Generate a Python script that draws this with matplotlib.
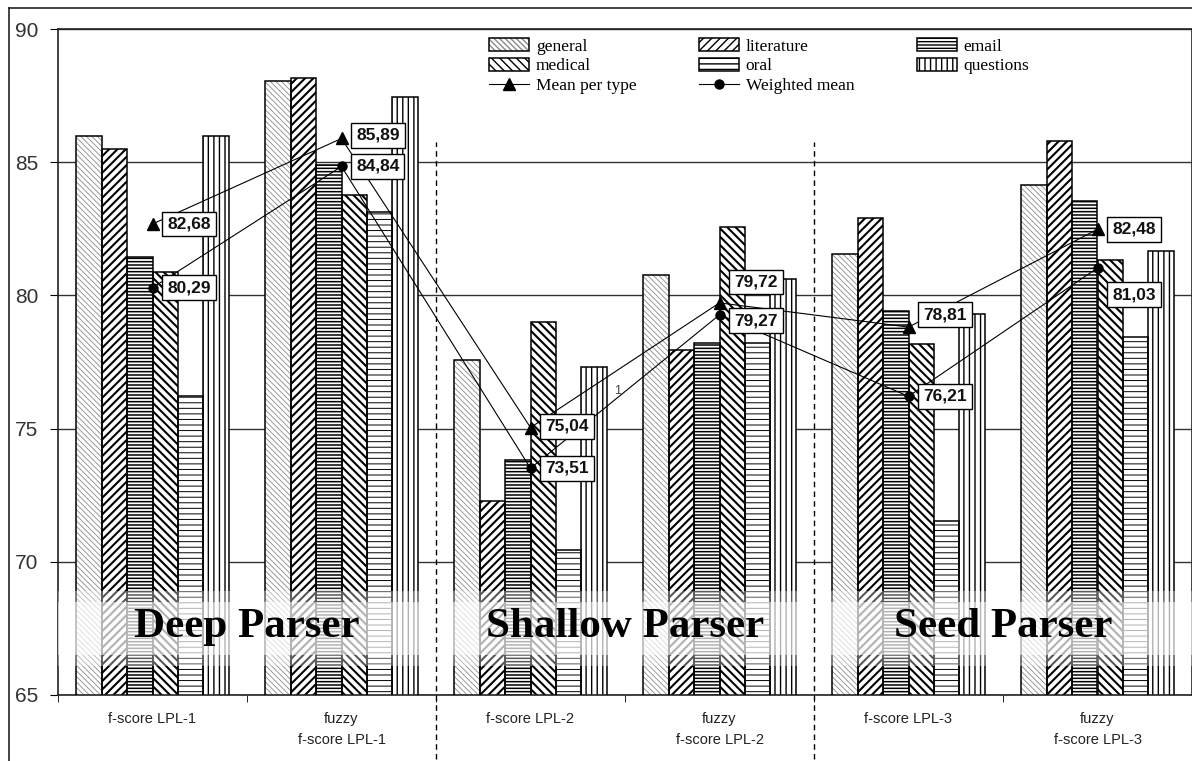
import numpy as np
import matplotlib.pyplot as plt
from matplotlib.patches import Patch, Rectangle
from matplotlib.lines import Line2D
from matplotlib.legend_handler import HandlerTuple

# data
categories = ['f-score LPL-1', 'fuzzy\nf-score LPL-1', 'f-score LPL-2',
              'fuzzy\nf-score LPL-2', 'f-score LPL-3', 'fuzzy\nf-score LPL-3']
series_names = ['general', 'literature', 'email', 'medical', 'oral', 'questions']
general = [86.0, 88.03, 77.59, 80.76, 81.55, 84.14]
literature = [85.5, 88.16, 72.28, 77.96, 82.89, 85.8]
email = [81.45, 84.9, 73.82, 78.2, 79.43, 83.54]
medical = [80.87, 83.77, 79.01, 82.56, 78.17, 81.33]
oral = [76.23, 83.14, 70.44, 78.21, 71.53, 78.42]
questions = [86.0, 87.43, 77.31, 80.63, 79.3, 81.65]
mean_per_type = [82.68, 85.89, 75.04, 79.72, 78.81, 82.48]
weighted_mean = [80.29, 84.84, 73.51, 79.27, 76.21, 81.03]
parser_names = ['Deep Parser', 'Shallow Parser', 'Seed Parser']

# label box nudges (data units), to keep boxes apart
mean_dy = [0.0, 0.12, 0.05, 0.78, 0.47, 0.0]
weighted_dy = [0.0, 0.0, 0.0, -0.22, 0.0, -1.0]

W, H = 1192, 761
SERIF = ['Liberation Serif', 'DejaVu Serif']
SANS = ['Liberation Sans', 'DejaVu Sans']

# hatch, hatch colour, hatch linewidth per series
styles = [
    ('\\' * 6, '#8a8a8a', 0.6),
    ('////', 'black', 1.5),
    ('-----', 'black', 1.1),
    ('\\' * 4, 'black', 1.5),
    ('---', 'black', 0.7),
    ('|||', 'black', 1.0),
]

fig = plt.figure(figsize=(W / 100, H / 100), dpi=100)
ax = fig.add_axes([58 / W, 1 - 695 / H, 1 - 58 / W, (695 - 29) / H])

x = np.arange(len(categories))
n = len(series_names)
group_w = 0.805
bw = group_w / n
values = [general, literature, email, medical, oral, questions]


def hatched(hatch, color, hlw):
    with plt.rc_context({'hatch.linewidth': hlw}):
        p = Patch(facecolor='white', edgecolor=color, hatch=hatch, linewidth=0)
        if hasattr(p, 'set_hatch_linewidth'):
            p.set_hatch_linewidth(hlw)
    return p


handles = []
for k, (vals, (hatch, hc, hlw)) in enumerate(zip(values, styles)):
    xs = x - group_w / 2 + bw * (k + 0.5)
    with plt.rc_context({'hatch.linewidth': hlw}):
        bars = ax.bar(xs, vals, bw, facecolor='white', edgecolor=hc,
                      hatch=hatch, linewidth=0, zorder=2)
    for b in bars:
        if hasattr(b, 'set_hatch_linewidth'):
            b.set_hatch_linewidth(hlw)
    ax.bar(xs, vals, bw, fill=False, edgecolor='black', linewidth=1.1, zorder=3)
    outline = Patch(facecolor='none', edgecolor='black', linewidth=1.1)
    handles.append((hatched(hatch, hc, hlw), outline))

# translucent band behind the parser names
ax.add_patch(Rectangle((-0.5, 66.5), len(x), 2.0, fc='white', ec='none',
                       alpha=0.7, zorder=4))
for y0 in (66.1, 68.5):
    ax.add_patch(Rectangle((-0.5, y0), len(x), 0.4, fc='white', ec='none',
                           alpha=0.35, zorder=4))
for i, name in enumerate(parser_names):
    ax.text(2 * i + 0.5, 67.55, name, ha='center', va='center', fontsize=31,
            fontweight='bold', family=SERIF, color='black', zorder=5)

# mean lines
ax.plot(x, mean_per_type, color='black', lw=0.8, marker='^', ms=8, zorder=7)
ax.plot(x, weighted_mean, color='black', lw=0.8, marker='o', ms=6.5, zorder=7)

for i in range(len(x)):
    for v, dy in ((mean_per_type[i], mean_dy[i]), (weighted_mean[i], weighted_dy[i])):
        ax.annotate(f'{v:.2f}'.replace('.', ','), (x[i], v),
                    xytext=(x[i] + 0.078, v + dy), textcoords='data',
                    ha='left', va='center', fontsize=12.5, fontweight='bold',
                    family=SANS, color='#111111', zorder=9,
                    bbox=dict(boxstyle='square,pad=0.28', fc='white',
                              ec='black', lw=1))

ax.text(2.44, 76.3, '1', fontsize=9, color='#444444', zorder=8, family=SANS)

# dashed separators between parsers
for xd in (1.5, 3.5):
    ax.plot([xd, xd], [62.6, 85.76], color='black', lw=1, ls=(0, (4, 3)),
            clip_on=False, zorder=6)

ax.set_xlim(-0.5, len(x) - 0.5)
ax.set_ylim(65, 90)
ax.set_yticks([65, 70, 75, 80, 85, 90])
ax.yaxis.grid(True, color='#333333', lw=1)
ax.set_axisbelow(True)
ax.set_xticks(x)
ax.set_xticklabels(categories, family=SANS, fontsize=10.5, color='#222222',
                   linespacing=1.7)
ax.set_xticks(np.arange(-0.5, len(x)), minor=True)
ax.tick_params(axis='x', which='major', length=0, pad=12)
ax.tick_params(axis='x', which='minor', length=5, direction='out')
ax.tick_params(axis='y', length=6, direction='out', pad=8, labelsize=15,
               labelcolor='#333333')
for lab in ax.get_yticklabels():
    lab.set_family(SANS)
for s in ax.spines.values():
    s.set_linewidth(1.2)
    s.set_color('#222222')

# legend
line_mean = Line2D([], [], color='black', lw=0.8, marker='^', ms=8)
line_w = Line2D([], [], color='black', lw=0.8, marker='o', ms=6.5)
leg_handles = [handles[0], handles[3], line_mean,
               handles[1], handles[4], line_w,
               handles[2], handles[5]]
leg_labels = ['general', 'medical', 'Mean per type',
              'literature', 'oral', 'Weighted mean',
              'email', 'questions']
ax.legend(leg_handles, leg_labels, ncol=3, loc='upper left',
          bbox_to_anchor=(489 / W, 1 - 38 / H), bbox_transform=fig.transFigure,
          frameon=False, prop={'family': SERIF, 'size': 12.5},
          handlelength=2.3, handleheight=0.8, handletextpad=0.4,
          columnspacing=3.6, labelspacing=0.18, borderpad=0, borderaxespad=0,
          handler_map={tuple: HandlerTuple(ndivide=1, pad=0)})

# outer chart frame
fig.add_artist(Line2D([9 / W, 9 / W], [0, 1 - 8 / H], transform=fig.transFigure,
                      color='#222222', lw=1.2))
fig.add_artist(Line2D([9 / W, 1], [1 - 8 / H, 1 - 8 / H], transform=fig.transFigure,
                      color='#222222', lw=1.2))

fig.savefig('out.png', dpi=100, facecolor='white')
